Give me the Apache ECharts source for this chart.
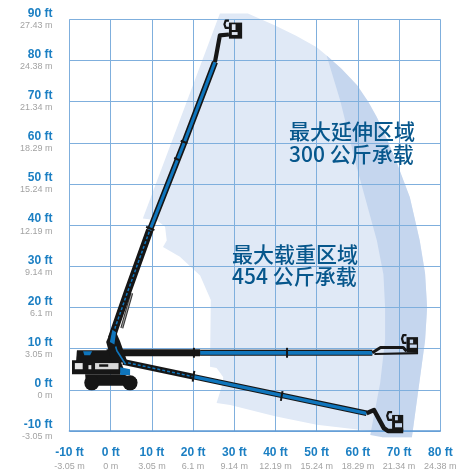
<!DOCTYPE html>
<html><head><meta charset="utf-8">
<style>html,body{margin:0;padding:0;background:#fff}#c{width:464px;height:474px}</style>
<script src="https://cdn.jsdelivr.net/npm/echarts@6/dist/echarts.min.js"></script>
</head><body><div id="c"></div>
<script>
// Tick labels
const xFt = ['-10 ft','0 ft','10 ft','20 ft','30 ft','40 ft','50 ft','60 ft','70 ft','80 ft'];
const xM  = ['-3.05 m','0 m','3.05 m','6.1 m','9.14 m','12.19 m','15.24 m','18.29 m','21.34 m','24.38 m'];
const yFt = ['-10 ft','0 ft','10 ft','20 ft','30 ft','40 ft','50 ft','60 ft','70 ft','80 ft','90 ft'];
const yM  = ['-3.05 m','0 m','3.05 m','6.1 m','9.14 m','12.19 m','15.24 m','18.29 m','21.34 m','24.38 m','27.43 m'];
// Working envelope, feet
const envelopeOuter = [[26.5,91.4],[33.3,91.4],[39.9,88.5],[45,86],[50,83.2],[52.4,81.2],[56,78],[59.8,74],[62.5,70],[64.6,66.2],[67,61],[69.5,55],[72.6,46.8],[75,36.3],[76.3,28.3],[76.8,20],[76.3,12],[75,2.4],[73.1,-11.5],[66,-11.5],[63,-10],[50,-8.5],[39.9,-6.4],[29,-3.7],[25.7,-3.2],[27.2,1.6],[27.3,3.1],[25.7,5.3],[24.1,5.6],[24.3,21.8],[21.7,27.8],[16.8,32.3],[12.7,34.7],[13.6,36.3],[13.2,39.6],[11.2,41.2],[7.8,41.6]];
const envelopeBand = [[52.4,81.2],[55.7,70.3],[59.7,54.1],[64.6,36.3],[66.2,28],[66.6,20],[66.6,12.1],[65.4,1.6],[63,-11],[66,-11.5],[73.1,-11.5],[75,2.4],[76.3,12],[76.8,20],[76.3,28.3],[75,36.3],[72.6,46.8],[69.5,55],[67,61],[64.6,66.2],[62.5,70],[59.8,74],[56,78]];
// Machine: raised position
const upperBoomUp = [[9.5,38.8],[17.6,59.4],[25.3,79.6]];
const lowerBoomUp = [[0.2,12.5],[1.04,15],[4,23.5],[9.5,38.8]];
const jibUp = [[25.3,79.6],[25.7,81.7],[26.5,86.1],[28.7,86.3]];
const cageUp = [[28.7,89.2],[31.9,89.2],[31.9,85.3],[28.7,85.3]];
const cageUpWinA = [[29.4,88.8],[30.3,88.8],[30.3,87.4],[29.4,87.4]];
const cageUpWinB = [[29.4,86.9],[30.8,86.9],[30.8,86.2],[29.4,86.2]];
const railUp = [[28.7,87.9],[27.9,87.9],[27.6,88.8],[27.9,89.7],[28.7,89.7]];
// Machine: horizontal position
const innerBoomFlat = [[-1,9],[21.7,9]];
const outerBoomFlat = [[21.7,9],[63.5,9]];
const jibFlatTop = [[63.5,9],[65.5,10.3],[71,10.3],[71.8,9.4]];
const jibFlatBottom = [[64,8.7],[74.6,8.9]];
const cageFlat = [[71.8,12.8],[74.6,12.8],[74.6,9.1],[71.8,9.1]];
const cageFlatWinA = [[72.6,12.2],[73.4,12.2],[73.4,11.3],[72.6,11.3]];
const cageFlatWinB = [[72.6,11],[74.3,11],[74.3,10.2],[72.6,10.2]];
const railFlat = [[71.8,11.4],[71,11.4],[70.7,12.4],[71,13.3],[71.8,13.3]];
// Machine: lowered position
const innerBoomLow = [[3,6.8],[20,3.2]];
const outerBoomLow = [[20,3.2],[62.1,-5.7]];
const jibLow = [[62.1,-5.7],[63.9,-4.9],[66.3,-9.3],[67.3,-10],[71,-10]];
const cageLow = [[68.3,-6.1],[71,-6.1],[71,-10.1],[68.3,-10.1]];
const cageLowWinA = [[69,-6.4],[69.7,-6.4],[69.7,-7.4],[69,-7.4]];
const cageLowWinB = [[69,-8.1],[70.7,-8.1],[70.7,-9.1],[69,-9.1]];
const railLow = [[68.3,-7.3],[67.4,-7.3],[67.1,-6.3],[67.4,-5.4],[68.3,-5.4]];
// Collars
const collars = [[[17,60.5],[18.6,59.9]],[[15.4,56.3],[16.7,55.8]],[[8.6,39.6],[10.6,38.8]],[[42.8,7.8],[42.8,10.2]],[[20.2,7.8],[20.2,10.2]],[[41.7,-0.3],[41.3,-2.7]],[[20.3,4.6],[19.9,2]]];
// Chassis
const bodyShape = [[-9.4,7.2],[2.3,7.2],[3,5.5],[2.3,3.8],[-9.4,3.8]];
const undercarriage = [[-6.2,3.8],[3,3.8],[6.4,2.5],[6,1],[-6,1]];
const turret = [[-8.2,9.6],[0,9.6],[0.5,7],[-8.4,7]];
const turretBlue = [[-6.7,9.4],[-4.5,9.4],[-5,8.4],[-6.4,8.4]];
const panelA = [[-8.7,6.5],[-6.8,6.5],[-6.8,5],[-8.7,5]];
const panelB = [[-3.8,6.5],[1.9,6.5],[1.9,5],[-3.8,5]];
const panelC = [[-5.4,6],[-4.7,6],[-4.7,5],[-5.4,5]];
const panelD = [[-2.8,6.2],[-0.6,6.2],[-0.6,5.6],[-2.8,5.6]];
const bodyBlue = [[2.3,5.5],[4.7,5],[4.7,3.6],[2.3,3.6]];
const mast = [[-1.1,11.6],[0.6,15.6],[2.2,12],[4.2,6.4],[0.2,7]];
const mastBlue = [[0.4,14.6],[1.3,14],[0.9,11],[-0.2,11.6]];
const mastStrut = [[1.2,10.5],[1.5,9.5],[3.6,6.2]];
const liftCylinder = [[2.7,15],[5.1,23.5]];
const wheels = [[-4.6,1.7],[4.7,1.7]];

const BLACK='#161616', BLUE='#0f75bc', FILL='#e0e9f6', BAND='#c5d6ee';
const fills = (p,c)=>({t:'polygon',p,c});
const line = (p,c,w,d)=>({t:'polyline',p,c,w,d});
const envelopeShapes = [fills(envelopeOuter,FILL), fills(envelopeBand,BAND)];
const machineShapes = [
  line(liftCylinder,'#333',3), line(liftCylinder,'#bbb',0.8),
  line(lowerBoomUp,BLACK,7.5), line(lowerBoomUp,BLUE,1.5,[3,2]),
  line(upperBoomUp,BLACK,6.2), line(upperBoomUp,BLUE,3),
  line(jibUp,BLACK,4.2), fills(cageUp,BLACK), fills(cageUpWinA,'#dfe6f2'), fills(cageUpWinB,'#dfe6f2'), line(railUp,BLACK,2.2),
  line(outerBoomFlat,BLACK,6), line(outerBoomFlat,BLUE,3.8),
  line(innerBoomFlat,BLACK,7),
  line(jibFlatTop,BLACK,3), line(jibFlatBottom,BLACK,2.2), fills(cageFlat,BLACK), fills(cageFlatWinA,'#c5d6ee'), fills(cageFlatWinB,'#c5d6ee'), line(railFlat,BLACK,2.2),
  line(outerBoomLow,BLACK,5.5), line(outerBoomLow,BLUE,3.4),
  line(innerBoomLow,BLACK,6), line(innerBoomLow,BLUE,1.5,[3,2]),
  line(jibLow,BLACK,4.5), fills(cageLow,BLACK), fills(cageLowWinA,'#c5d6ee'), fills(cageLowWinB,'#c5d6ee'), line(railLow,BLACK,2.2),
  ...collars.map(c=>line(c,BLACK,2)),
  fills(undercarriage,BLACK), fills(bodyShape,BLACK), fills(turret,BLACK), fills(mast,BLACK), fills(mastBlue,BLUE),
  fills(turretBlue,BLUE), fills(panelA,'#e8e8e8'), fills(panelB,'#d8d8d8'), fills(panelC,'#e8e8e8'), fills(panelD,'#161616'),
  fills(bodyBlue,BLUE), line(mastStrut,BLUE,1.6)
];
function renderShape(list){
  return function(params, api){
    const s = list[params.dataIndex];
    const pts = s.p.map(p=>api.coord(p));
    if(s.t==='polygon') return {type:'polygon',shape:{points:pts},style:{fill:s.c}};
    return {type:'polyline',shape:{points:pts},style:{stroke:s.c,lineWidth:s.w,fill:null,lineDash:s.d||null,lineJoin:'round'}};
  };
}
const FT='#1b7fc3', M='#a3a3a3', SANS='"Liberation Sans",sans-serif';
const richOf = lh => ({ft:{color:FT,fontFamily:SANS,fontWeight:'bold',fontSize:12,lineHeight:lh},m:{color:M,fontFamily:SANS,fontSize:9,lineHeight:lh}});
const GRID='#7fafdd';
const chart = echarts.init(document.getElementById('c'),null,{renderer:'canvas'});
const txt = (text,x,y)=>({type:'text',left:x,top:y,z:10,style:{text,fill:'#07578c',font:'500 21px "Noto Sans CJK SC"'}});
chart.setOption({
  animation:false,
  backgroundColor:'#fff',
  grid:{left:69.5,right:23.7,top:19.3,bottom:43},
  xAxis:{type:'value',min:-10,max:80,interval:10,z:1,
    axisLine:{show:true,onZero:false,lineStyle:{color:'#5f9bd5',width:1.6}},axisTick:{show:false},
    splitLine:{show:true,lineStyle:{color:GRID,width:1}},
    axisLabel:{margin:15,interval:0,rich:richOf(14),formatter:v=>{const i=Math.round((v+10)/10);return '{ft|'+xFt[i]+'}\n{m|'+xM[i]+'}';}}},
  yAxis:{type:'value',min:-10,max:90,interval:10,z:1,
    axisLine:{show:false},axisTick:{show:false},
    splitLine:{show:true,lineStyle:{color:GRID,width:1}},
    axisLabel:{margin:17,align:'right',rich:richOf(12),formatter:v=>{const i=Math.round((v+10)/10);return '{ft|'+yFt[i]+'}\n{m|'+yM[i]+'}';}}},
  series:[
    {type:'custom',name:'envelope',z:0,coordinateSystem:'cartesian2d',silent:true,clip:false,renderItem:renderShape(envelopeShapes),data:envelopeShapes.map((_,i)=>[i])},
    {type:'custom',name:'machine',z:3,coordinateSystem:'cartesian2d',silent:true,clip:false,renderItem:renderShape(machineShapes),data:machineShapes.map((_,i)=>[i])},
    {type:'scatter',name:'wheels',z:4,silent:true,clip:false,symbol:'circle',symbolSize:15,itemStyle:{color:BLACK,opacity:1},data:wheels}
  ],
  graphic:[txt('最大延伸区域',289,121),txt('300 公斤承载',289,144),txt('最大载重区域',232,244),txt('454 公斤承载',232,266)]
});
</script></body></html>
